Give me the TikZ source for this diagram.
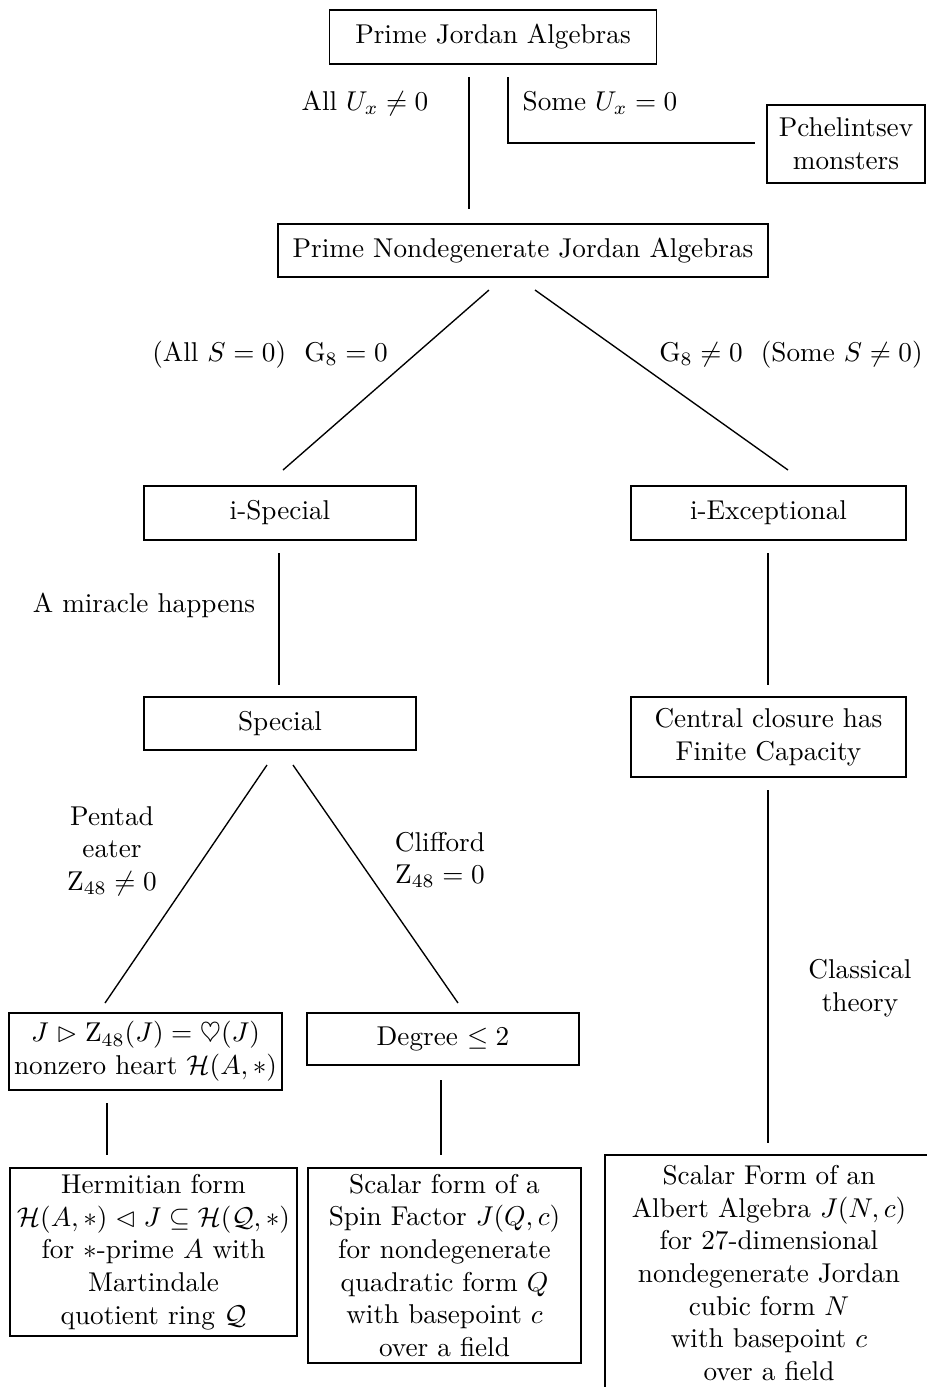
\documentclass[tikz,border=0pt]{standalone}
\usepackage{amssymb}
\newcommand\pxu{0.3676pt}
\begin{document}
\begin{tikzpicture}[x=0.3676pt, y=-0.3676pt,
  jbox/.style={draw, align=center, inner sep=0pt, line width=0.5pt},
  lbl/.style={align=center, inner sep=0pt},
  conn/.style={line width=0.5pt}]
\clip (0,0) rectangle (927,1387);
% boxes
\node[jbox, minimum width=327*\pxu, minimum height=54*\pxu] (pja) at (493,37) {Prime Jordan Algebras};
\node[jbox, minimum width=158*\pxu, minimum height=78*\pxu] (pm) at (846,144) {Pchelintsev\\monsters};
\node[jbox, minimum width=490*\pxu, minimum height=53*\pxu] (pnd) at (523,250.5) {Prime Nondegenerate Jordan Algebras};
\node[jbox, minimum width=272*\pxu, minimum height=54*\pxu] (isp) at (280,513) {i-Special};
\node[jbox, minimum width=275*\pxu, minimum height=54*\pxu] (iex) at (768.5,513) {i-Exceptional};
\node[jbox, minimum width=272*\pxu, minimum height=53*\pxu] (sp) at (280,723.5) {Special};
\node[jbox, minimum width=275*\pxu, minimum height=80*\pxu] (cc) at (768.5,737) {Central closure has\\Finite Capacity};
\node[jbox, minimum width=273*\pxu, minimum height=77*\pxu] (jz) at (145.5,1051.5) {$J \vartriangleright \mathrm{Z}_{48}(J) = \heartsuit(J)$\\nonzero heart $\mathcal{H}(A,*)$};
\node[jbox, minimum width=272*\pxu, minimum height=52*\pxu] (deg) at (443,1039) {Degree $\leq 2$};
\node[jbox, minimum width=287*\pxu, minimum height=168*\pxu] (herm) at (153.5,1252) {Hermitian form\\$\mathcal{H}(A,*) \vartriangleleft J \subseteq \mathcal{H}(\mathcal{Q},*)$\\for $*$-prime $A$ with\\Martindale\\quotient ring $\mathcal{Q}$};
\node[jbox, minimum width=273*\pxu, minimum height=195*\pxu] (spin) at (444.5,1265.5) {Scalar form of a\\Spin Factor $J(Q,c)$\\for nondegenerate\\quadratic form $Q$\\with basepoint $c$\\over a field};
\node[jbox, minimum width=328*\pxu, minimum height=236*\pxu] (alb) at (769,1273) {Scalar Form of an\\Albert Algebra $J(N,c)$\\for 27-dimensional\\nondegenerate Jordan\\cubic form $N$\\with basepoint $c$\\over a field};
% labels
\node[lbl] (l1) at (365,103) {All $U_x \neq 0$};
\node[lbl] (l2) at (600,103) {Some $U_x = 0$};
\node[lbl] (l3) at (270,355) {(All $S = 0$)~~$\mathrm{G}_8 = 0$};
\node[lbl] (l4) at (791,355) {$\mathrm{G}_8 \neq 0$~~(Some $S \neq 0$)};
\node[lbl] (l5) at (144,605) {A miracle happens};
\node[lbl] (l6) at (112,851) {Pentad\\eater\\$\mathrm{Z}_{48} \neq 0$};
\node[lbl] (l7) at (440,860) {Clifford\\$\mathrm{Z}_{48} = 0$};
\node[lbl] (l8) at (860,988) {Classical\\theory};
% connector end points
\coordinate (a1) at (469,77);  \coordinate (a2) at (469,209);
\coordinate (b1) at (508,77);  \coordinate (b2) at (755,143);
\coordinate (c1) at (489,290); \coordinate (c2) at (283,470);
\coordinate (d1) at (535,290); \coordinate (d2) at (788,470);
\coordinate (e1) at (279,553); \coordinate (e2) at (279,685);
\coordinate (f1) at (768,553); \coordinate (f2) at (768,685);
\coordinate (g1) at (267,765); \coordinate (g2) at (105,1003);
\coordinate (h1) at (293,765); \coordinate (h2) at (458,1003);
\coordinate (i1) at (768,790); \coordinate (i2) at (768,1143);
\coordinate (j1) at (107,1103); \coordinate (j2) at (107,1155);
\coordinate (k1) at (441,1080); \coordinate (k2) at (441,1155);
\draw[conn] (a1) -- (a2);
\draw[conn] (b1) |- (b2);
\draw[conn] (c1) -- (c2);
\draw[conn] (d1) -- (d2);
\draw[conn] (e1) -- (e2);
\draw[conn] (f1) -- (f2);
\draw[conn] (g1) -- (g2);
\draw[conn] (h1) -- (h2);
\draw[conn] (i1) -- (i2);
\draw[conn] (j1) -- (j2);
\draw[conn] (k1) -- (k2);
\end{tikzpicture}
\end{document}
